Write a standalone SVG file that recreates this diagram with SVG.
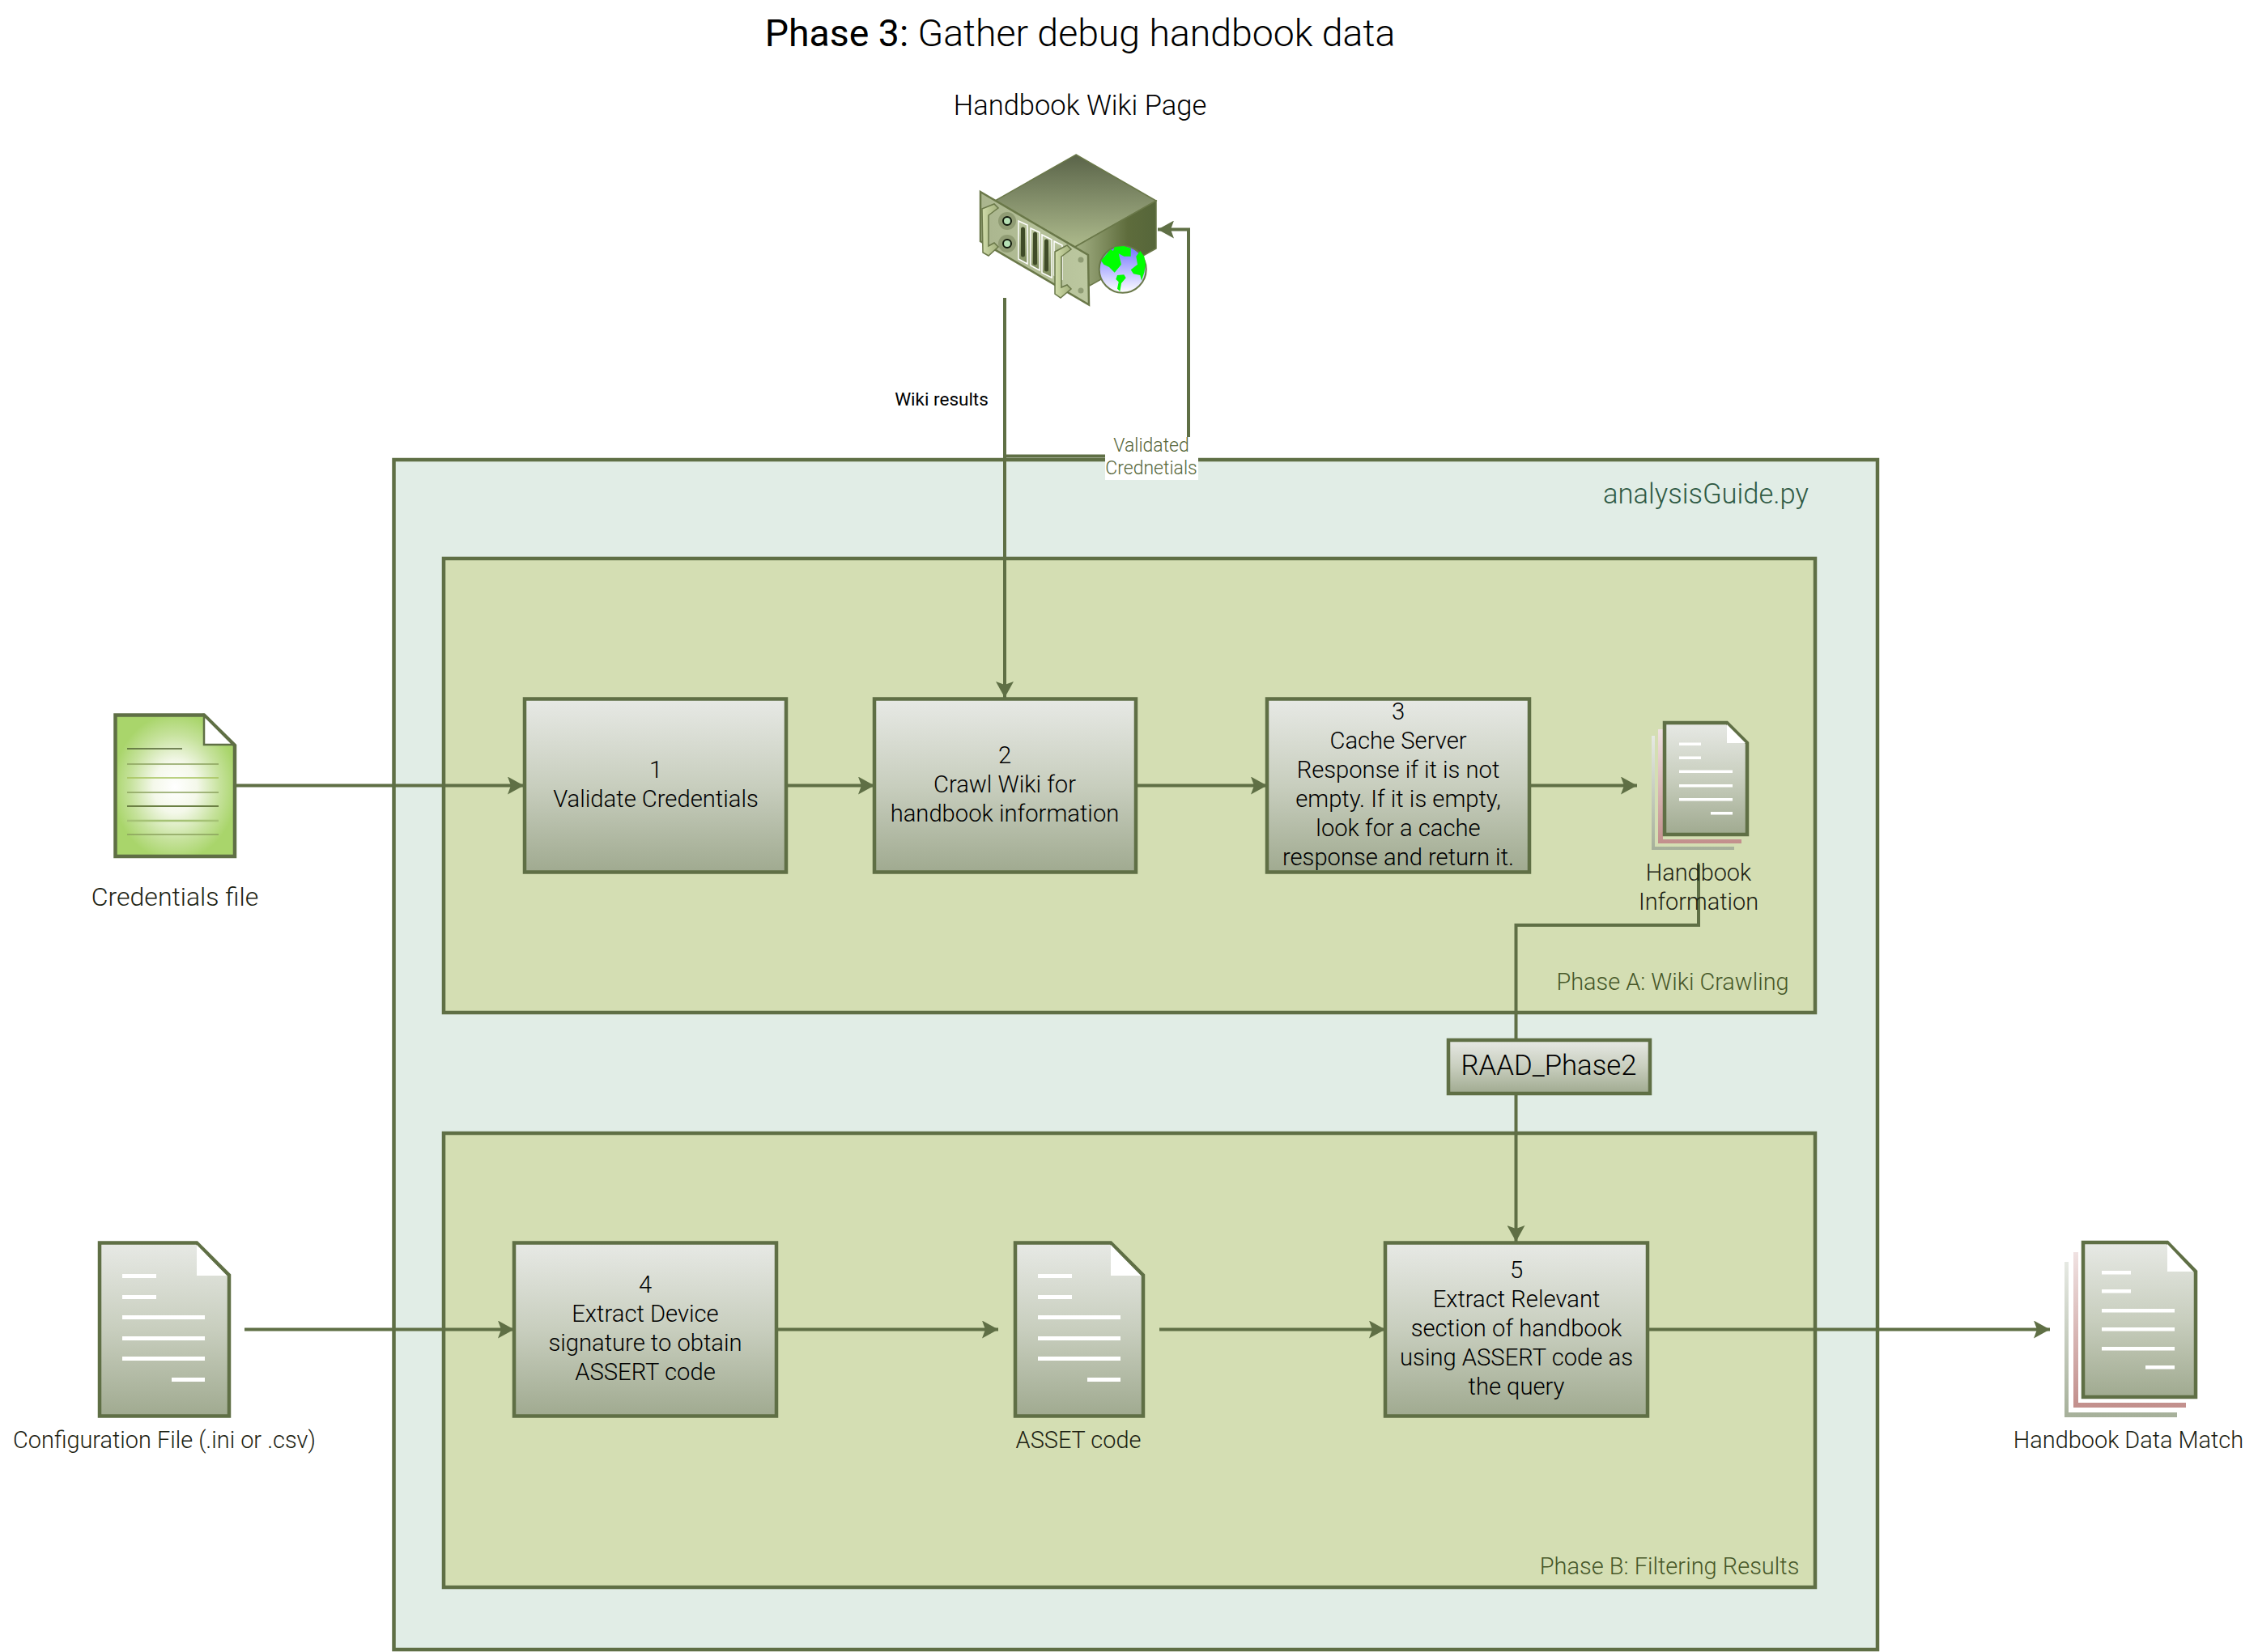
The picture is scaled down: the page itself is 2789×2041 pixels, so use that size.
<svg xmlns="http://www.w3.org/2000/svg" width="2789" height="2041" viewBox="0 0 2789 2041">
<style>
text{font-family:Roboto,"Liberation Sans",sans-serif;font-weight:300;text-anchor:middle;fill:#000}
.t{font-size:29.2px}
.lab{font-size:28.9px;fill:#1c2212}
.box{fill:url(#g);stroke:#5f6f45;stroke-width:4.5}
.doc{fill:url(#g);stroke:#5f6f45;stroke-width:4.5}
.ph{fill:#d4deb3;stroke:#5f6f45;stroke-width:4.5}
.c{fill:none;stroke:#5f6f45;stroke-width:4}
.a{marker-end:url(#ar)}
.wl{fill:#fff}
.wf{fill:#fff}
.ln{stroke-width:1.5}
</style>
<defs>
<linearGradient id="g" x1="0" y1="0" x2="0" y2="1"><stop offset="0" stop-color="#e7e9e5"/><stop offset="0.5" stop-color="#c8ceBE"/><stop offset="1" stop-color="#a0aa90"/></linearGradient>
<linearGradient id="pk" x1="0" y1="0" x2="0" y2="1"><stop offset="0" stop-color="#f0e2e2"/><stop offset="1" stop-color="#c28f8c"/></linearGradient>
<linearGradient id="gy" x1="0" y1="0" x2="0" y2="1"><stop offset="0" stop-color="#e6e9e3"/><stop offset="1" stop-color="#a6b09a"/></linearGradient>
<radialGradient id="cr" cx="0.5" cy="0.51" r="0.52"><stop offset="0" stop-color="#fff"/><stop offset="0.35" stop-color="#f4f8ea"/><stop offset="0.72" stop-color="#c6e29c"/><stop offset="1" stop-color="#a9d56b"/></radialGradient>
<linearGradient id="top" x1="0" y1="0" x2="0" y2="1"><stop offset="0" stop-color="#5a6449"/><stop offset="1" stop-color="#adba8c"/></linearGradient>
<linearGradient id="side" x1="0" y1="0" x2="1" y2="0"><stop offset="0" stop-color="#a3b084"/><stop offset="0.65" stop-color="#5e6c3c"/><stop offset="1" stop-color="#56663a"/></linearGradient>
<linearGradient id="pan" x1="0" y1="0" x2="1" y2="0"><stop offset="0" stop-color="#aab58e"/><stop offset="1" stop-color="#bcc8a0"/></linearGradient>
<linearGradient id="slot" x1="0" y1="0" x2="0" y2="1"><stop offset="0" stop-color="#bcc8a0"/><stop offset="1" stop-color="#7f8d5e"/></linearGradient>
<linearGradient id="hd" x1="0" y1="0" x2="1" y2="0"><stop offset="0" stop-color="#d0dcaa"/><stop offset="1" stop-color="#a2b07b"/></linearGradient>
<linearGradient id="gb" x1="0" y1="0" x2="0" y2="1"><stop offset="0" stop-color="#7070ff"/><stop offset="1" stop-color="#fff"/></linearGradient>
<marker id="ar" markerUnits="userSpaceOnUse" markerWidth="22" markerHeight="22" refX="20" refY="11" orient="auto"><path d="M0 0L20 11L0 22L4 11Z" fill="#5f6f45"/></marker>
</defs>
<rect width="2789" height="2041" fill="#fff"/>
<g id="title"><text x="1334" y="57" font-size="46.400px"><tspan style="font-weight:400">Phase 3:</tspan> Gather debug handbook data</text></g>
<g id="analysisGuide"><rect x="486.500" y="568" width="1832.500" height="1470" fill="#e1ede6" stroke="#5f6f45" stroke-width="4.500"/><text x="2107" y="622" font-size="34.500px" style="fill:#2f5a44">analysisGuide.py</text></g>
<g id="phaseA"><rect class="ph" x="548" y="690" width="1694" height="561"/><text x="2066" y="1223" font-size="28.900px" style="fill:#465728">Phase A: Wiki Crawling</text></g>
<g id="phaseB"><rect class="ph" x="548" y="1400" width="1694" height="561"/><text x="2062" y="1945" font-size="29px" style="fill:#465728">Phase B: Filtering Results</text></g>
<g id="connectors">
<path class="c" d="M1241 862V563.500H1468V283.500H1430" marker-end="url(#ar)"/>
<path class="c a" d="M1241 368V862"/>
<path class="c a" d="M290 970.500H647"/>
<path class="c a" d="M971 970.500H1080"/>
<path class="c a" d="M1403 970.500H1565"/>
<path class="c a" d="M1889 970.500H2022"/>
<path class="c" d="M2098 1068V1143H1872.500V1284"/>
<path class="c a" d="M1872.500 1352V1534"/>
<path class="c a" d="M302 1642.500H635"/>
<path class="c a" d="M959 1642.500H1233"/>
<path class="c a" d="M1432 1642.500H1711"/>
<path class="c a" d="M2035 1642.500H2532"/>
</g>
<g id="credLabel"><rect x="1365" y="540" width="115" height="53" fill="#fff"/><text x="1422" y="558" font-size="23px" style="fill:#566639">Validated</text><text x="1422" y="586" font-size="23px" style="fill:#566639">Crednetials</text></g>
<g id="wikiLabel"><text x="1163" y="501" font-size="22.500px" style="font-weight:400">Wiki results</text></g>
<g id="node-1"><rect class="box" x="648" y="863.500" width="323" height="214"/><text class="t" x="810" y="961">1</text><text class="t" x="810" y="997">Validate Credentials</text></g>
<g id="node-2"><rect class="box" x="1080" y="863.500" width="323" height="214"/><text class="t" x="1241" y="943">2</text><text class="t" x="1241" y="979">Crawl Wiki for</text><text class="t" x="1241" y="1015">handbook information</text></g>
<g id="node-3"><rect class="box" x="1565" y="863.500" width="324" height="214"/><text class="t" x="1727" y="889">3</text><text class="t" x="1727" y="925">Cache Server</text><text class="t" x="1727" y="961">Response if it is not</text><text class="t" x="1727" y="997">empty. If it is empty,</text><text class="t" x="1727" y="1033">look for a cache</text><text class="t" x="1727" y="1069">response and return it.</text></g>
<g id="node-4"><rect class="box" x="635" y="1535.500" width="324" height="214"/><text class="t" x="797" y="1597">4</text><text class="t" x="797" y="1633">Extract Device</text><text class="t" x="797" y="1669">signature to obtain</text><text class="t" x="797" y="1705">ASSERT code</text></g>
<g id="node-5"><rect class="box" x="1711" y="1535.500" width="324" height="214"/><text class="t" x="1873" y="1579">5</text><text class="t" x="1873" y="1615">Extract Relevant</text><text class="t" x="1873" y="1651">section of handbook</text><text class="t" x="1873" y="1687">using ASSERT code as</text><text class="t" x="1873" y="1723">the query</text></g>
<g id="raad"><rect class="box" x="1789" y="1285" width="249" height="66"/><text x="1913" y="1328" font-size="34.700px">RAAD_Phase2</text></g>
<g id="wiki-server">
<text x="1334" y="142" font-size="34.500px">Handbook Wiki Page</text>
<path d="M1329 191L1428 248L1328 305L1229 248Z" fill="url(#top)" stroke="#6a7849" stroke-width="1.500"/>
<path d="M1328 305L1428 248V307L1346 353Z" fill="url(#side)" stroke="#6a7849" stroke-width="1.500"/>
<path d="M1211 237L1344 315L1345 376.500L1211 298Z" fill="url(#pan)" stroke="#6a7849" stroke-width="2.500"/>
<circle cx="1244" cy="273" r="11" fill="#909c74"/><circle cx="1244" cy="301" r="11" fill="#909c74"/>
<circle cx="1244" cy="273" r="5" fill="#b5e0b5" stroke="#10180a" stroke-width="2"/><circle cx="1244" cy="301" r="5" fill="#b5e0b5" stroke="#10180a" stroke-width="2"/>
<path d="M1258 273L1269 278V326L1258 320Z" fill="url(#slot)" stroke="#fff" stroke-width="1.500"/>
<path d="M1273 282L1284 287V334L1273 328Z" fill="url(#slot)" stroke="#fff" stroke-width="1.500"/>
<path d="M1287 290L1299 296V343L1287 337Z" fill="url(#slot)" stroke="#fff" stroke-width="1.500"/>
<path d="M1302 298L1312 303V345L1302 340Z" fill="url(#slot)" stroke="#fff" stroke-width="1.500"/>
<path d="M1263.500 283V315M1278.500 289V325M1292.500 298V333" stroke="#3f4b28" stroke-width="5" stroke-linecap="round"/>
<path d="M1213 258L1228 252L1233 257L1221 266V304L1228 300L1233 305L1221 316L1214 312Z" fill="url(#hd)" stroke="#6a7849" stroke-width="1.500"/>
<path d="M1303 311L1318 303L1323 308L1311 317V355L1318 352L1323 357L1310 368L1303 363Z" fill="url(#hd)" stroke="#6a7849" stroke-width="1.500"/>
<circle cx="1335" cy="321" r="3.500" fill="#8f9c74"/><circle cx="1335" cy="359" r="3.500" fill="#8f9c74"/>
<circle cx="1386.700" cy="332.700" r="29" fill="url(#gb)" stroke="#6a7849" stroke-width="2"/>
<path d="M1360 322L1371.700 308.300L1375 310L1376.700 305L1388.300 304L1396.700 306.700V316.700H1388.300L1381.700 313.300L1385 326.700L1376.700 336.700L1370 330L1363.300 326.700Z" fill="#0f0"/>
<path d="M1413.300 316.700L1408.300 310L1403.300 316.700L1405 326.700L1396.700 333.300L1400 338.300L1408.300 340L1410 346.700L1413.300 336.700L1415 326.700Z" fill="#0f0"/>
<path d="M1380 340L1388.300 339.300L1390.700 343.300L1385 350L1383.300 360L1380 356.700L1381.700 348.300L1378.300 345Z" fill="#0f0"/>
</g>
<g id="credentials-file">
<path d="M142.500 883.500H252L290 921V1058H142.500Z" fill="url(#cr)" stroke="#5f6f45" stroke-width="4.500"/>
<path d="M252 884L288 920H252Z" fill="#fff" stroke="#5f6f45" stroke-width="2.500"/>
<path class="ln" d="M157 925H225" stroke="#4f6032"/>
<path class="ln" d="M157 944H270" stroke="#8aa05c"/><path class="ln" d="M157 961H270" stroke="#a5c25a"/><path class="ln" d="M157 979H270" stroke="#8aa05c"/><path d="M157 996H270" stroke="#6b8044" stroke-width="2"/><path d="M157 1014H270" stroke="#a5c275" stroke-width="2.500"/><path class="ln" d="M157 1031H270" stroke="#8aa05c"/>
<text class="lab" x="216" y="1119" style="font-size:32px">Credentials file</text>
</g>
<g id="config-file">
<path class="doc" d="M123 1535.500H243L283 1575.500V1749.500H123Z"/><path class="wf" d="M243 1538L280 1576H243Z"/>
<path class="wl" d="M151 1574h42v5h-42zM151 1600h42v5h-42zM151 1625h102v5h-102zM151 1651h102v5h-102zM151 1676h102v5h-102zM212 1702h41v5h-41z"/>
<text class="lab" x="203" y="1789">Configuration File (.ini or .csv)</text>
</g>
<g id="asset-code">
<path class="doc" d="M1254 1535.500H1372L1412 1575.500V1749.500H1254Z"/><path class="wf" d="M1372 1538L1409 1576H1372Z"/>
<path class="wl" d="M1282 1574h42v5h-42zM1282 1600h42v5h-42zM1282 1625h102v5h-102zM1282 1651h102v5h-102zM1282 1676h102v5h-102zM1343 1702h41v5h-41z"/>
<text class="lab" x="1332" y="1789">ASSET code</text>
</g>
<g id="handbook-info">
<path d="M2040 909h4v137h98v4h-102z" fill="url(#gy)"/><path d="M2048 901h6v136h97v5h-103z" fill="url(#pk)"/>
<path class="doc" d="M2056 893H2133L2158 918V1031H2056Z"/><path class="wf" d="M2133 895L2156 918H2133Z"/>
<path class="wl" d="M2074 917.500h27v3.500h-27zM2074 934.500h27v3.500h-27zM2074 951.500h66v3.500h-66zM2074 969h66v3.500h-66zM2074 986h66v3.500h-66zM2113 1003h27v3.500h-27z"/>
<text class="lab" x="2098" y="1088">Handbook</text><text class="lab" x="2098" y="1124">Information</text>
</g>
<g id="handbook-match">
<path d="M2550 1559h5v186h134v6h-139z" fill="url(#gy)"/><path d="M2561 1547h6v186h133v6h-139z" fill="url(#pk)"/>
<path class="doc" d="M2573 1535H2677L2712 1571V1726H2573Z"/><path class="wf" d="M2677 1537L2709 1571H2677Z"/>
<path class="wl" d="M2596 1570h36v4.500h-36zM2596 1593h36v4.500h-36zM2596 1617h90v4.500h-90zM2596 1640h90v4.500h-90zM2596 1664h90v4.500h-90zM2650 1687h36v4.500h-36z"/>
<text class="lab" x="2629" y="1789">Handbook Data Match</text>
</g>
</svg>
